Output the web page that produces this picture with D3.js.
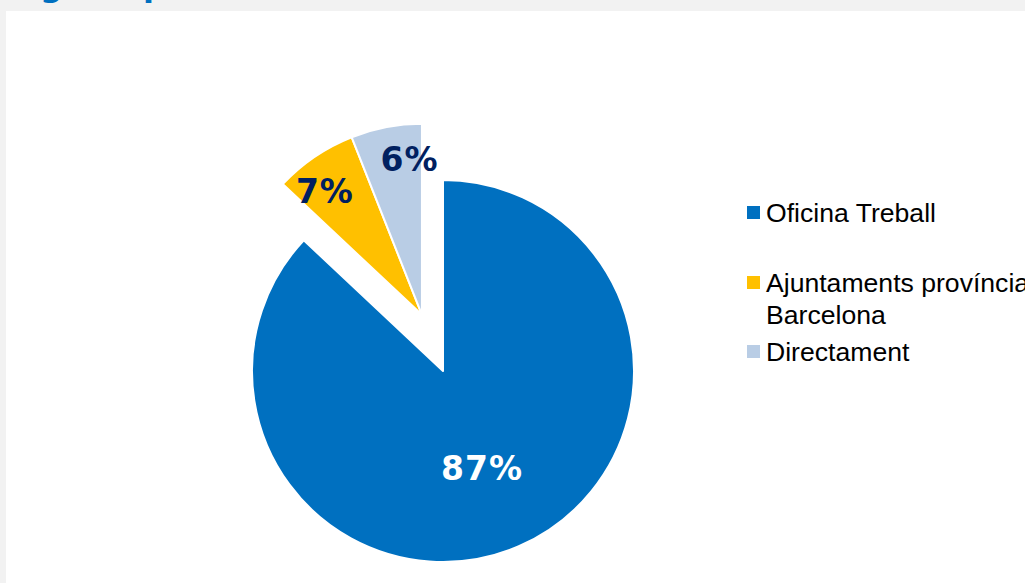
<!DOCTYPE html>
<html>
<head>
<meta charset="utf-8">
<script src="https://cdn.jsdelivr.net/npm/d3@7/dist/d3.min.js"></script>
<style>
  html, body { margin: 0; padding: 0; background: #f2f2f2; overflow: hidden; }
  svg { display: block; }
</style>
</head>
<body>
<svg id="chart" width="1025" height="583"></svg>
<script>
// ---- data ----
const categories = ["Oficina Treball", "Ajuntaments província Barcelona", "Directament"];
const legendLines = [["Oficina Treball"], ["Ajuntaments província", "Barcelona"], ["Directament"]];
const values = [87, 7, 6];
const valueLabels = ["87%", "7%", "6%"];
const colors = ["#0070c0", "#ffc000", "#b9cde5"];
const exploded = [false, true, true];

// ---- layout ----
const W = 1025, H = 583;
const cx = 443, cy = 371, R = 191, explodeDist = 60;
const svg = d3.select("#chart");

svg.append("rect").attr("x", 0).attr("y", 0).attr("width", W).attr("height", H).attr("fill", "#f2f2f2");
svg.append("rect").attr("x", 6).attr("y", 11).attr("width", W - 6).attr("height", H - 11).attr("fill", "#ffffff");

// cut-off title fragments at top (the reference shows only their descenders)
const title = svg.append("text")
  .attr("y", -4)
  .attr("fill", "#0070c0")
  .attr("font-family", "DejaVu Sans")
  .attr("font-weight", "bold")
  .attr("font-size", 32);
title.append("tspan").attr("x", 40).text("g");
title.append("tspan").attr("x", 143).text("p");

const pie = d3.pie().sort(null).value(d => d).startAngle(0).endAngle(2 * Math.PI);
const arcs = pie(values);
const arcGen = d3.arc().innerRadius(0).outerRadius(R);

// group explosion: exploded slices move together, slightly clockwise of the group's bisector
const exp = arcs.filter((a, i) => exploded[i]);
const gStart = d3.min(exp, a => a.startAngle), gEnd = d3.max(exp, a => a.endAngle);
const gMid = (gStart + gEnd) / 2 + 0.05;
const ox = Math.sin(gMid) * explodeDist, oy = -Math.cos(gMid) * explodeDist;

const g = svg.append("g").attr("transform", `translate(${cx},${cy})`);

arcs.forEach((a, i) => {
  const dx = exploded[i] ? ox : 0, dy = exploded[i] ? oy : 0;
  g.append("path")
    .attr("d", arcGen(a))
    .attr("transform", `translate(${dx},${dy})`)
    .attr("fill", colors[i])
    .attr("stroke", "#ffffff")
    .attr("stroke-width", 2)
    .attr("stroke-linejoin", "round");
});

// labels
const labelR = [0.555, 0.82, 0.82];
const labelNudge = [[-3, 0], [-9, 6], [17, -2]];
const labelColor = ["#ffffff", "#002060", "#002060"];
arcs.forEach((a, i) => {
  const mid = (a.startAngle + a.endAngle) / 2;
  const dx = exploded[i] ? ox : 0, dy = exploded[i] ? oy : 0;
  const x = dx + Math.sin(mid) * R * labelR[i] + labelNudge[i][0];
  const y = dy - Math.cos(mid) * R * labelR[i] + labelNudge[i][1];
  g.append("text")
    .attr("x", x).attr("y", y + 12)
    .attr("text-anchor", "middle")
    .attr("font-family", "DejaVu Sans, Verdana, sans-serif")
    .attr("font-weight", "bold")
    .attr("font-size", 33)
    .attr("letter-spacing", 1)
    .attr("fill", labelColor[i])
    .text(valueLabels[i]);
});

// legend
const legendX = 747;
const legendY = [206, 276, 345];
const leg = svg.append("g");
categories.forEach((c, i) => {
  leg.append("rect")
    .attr("x", legendX).attr("y", legendY[i])
    .attr("width", 13).attr("height", 13)
    .attr("fill", colors[i]);
  const t = leg.append("text")
    .attr("font-family", "Liberation Sans, Arial, sans-serif")
    .attr("font-size", 26.6)
    .attr("fill", "#000000");
  legendLines[i].forEach((line, j) => {
    t.append("tspan")
      .attr("x", legendX + 19)
      .attr("y", legendY[i] + 16 + j * 32)
      .text(line);
  });
});
</script>
</body>
</html>
